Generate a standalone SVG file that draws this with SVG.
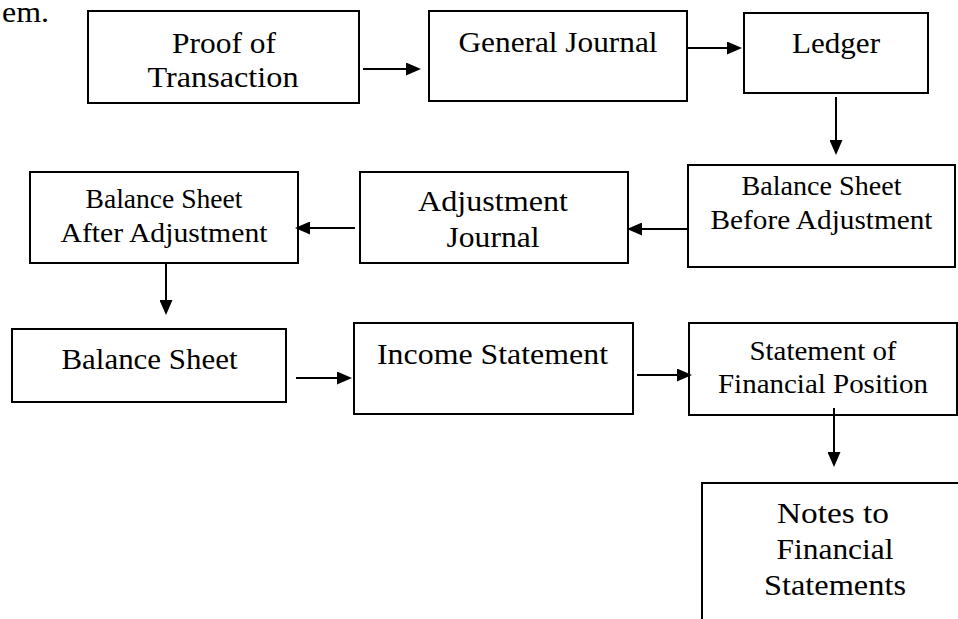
<svg xmlns="http://www.w3.org/2000/svg" width="958" height="619" viewBox="0 0 958 619">
<style>
.box{fill:#fff;stroke:#000;stroke-width:2}
.t{font-family:"Liberation Serif","Times New Roman",serif;font-size:29px;fill:#000;text-anchor:middle}
.s{font-size:26.5px}
.c{fill:none;stroke:#000;stroke-width:2}
</style>
<defs>
<marker id="ah" viewBox="0 0 15 13" refX="7" refY="6.5" markerWidth="15" markerHeight="13" markerUnits="userSpaceOnUse" orient="auto">
<path d="M0,0 L15,6.5 L0,13 z" fill="#000"/>
</marker>
</defs>
<rect width="958" height="619" fill="#fff"/>
<text class="t" x="2" y="22" style="text-anchor:start" textLength="47" lengthAdjust="spacingAndGlyphs">em.</text>
<g id="proof">
<rect class="box" x="88" y="11" width="271" height="92"/>
<text class="t" x="224" y="53" textLength="104" lengthAdjust="spacingAndGlyphs">Proof of</text>
<text class="t" x="223" y="87" textLength="151" lengthAdjust="spacingAndGlyphs">Transaction</text>
</g>
<g id="general-journal">
<rect class="box" x="429" y="11" width="258" height="90"/>
<text class="t" x="558" y="52" textLength="199" lengthAdjust="spacingAndGlyphs">General Journal</text>
</g>
<g id="ledger">
<rect class="box" x="744" y="13" width="184" height="80"/>
<text class="t" x="836" y="53" textLength="88" lengthAdjust="spacingAndGlyphs">Ledger</text>
</g>
<g id="bs-before">
<rect class="box" x="688" y="165" width="267" height="102"/>
<text class="t s" x="821.5" y="195" textLength="160" lengthAdjust="spacingAndGlyphs">Balance Sheet</text>
<text class="t s" x="821.5" y="229" textLength="222" lengthAdjust="spacingAndGlyphs">Before Adjustment</text>
</g>
<g id="adjustment-journal">
<rect class="box" x="360" y="172" width="268" height="91"/>
<text class="t" x="493" y="211" textLength="150" lengthAdjust="spacingAndGlyphs">Adjustment</text>
<text class="t" x="493" y="247" textLength="93" lengthAdjust="spacingAndGlyphs">Journal</text>
</g>
<g id="bs-after">
<rect class="box" x="30" y="172" width="268" height="91"/>
<text class="t s" x="164" y="208" textLength="157" lengthAdjust="spacingAndGlyphs">Balance Sheet</text>
<text class="t s" x="164" y="242" textLength="207" lengthAdjust="spacingAndGlyphs">After Adjustment</text>
</g>
<g id="balance-sheet">
<rect class="box" x="12" y="329" width="274" height="73"/>
<text class="t" x="149.5" y="369" textLength="176" lengthAdjust="spacingAndGlyphs">Balance Sheet</text>
</g>
<g id="income-statement">
<rect class="box" x="354" y="323" width="279" height="91"/>
<text class="t" x="492.5" y="364" textLength="231" lengthAdjust="spacingAndGlyphs">Income Statement</text>
</g>
<g id="sfp">
<rect class="box" x="689" y="323" width="268" height="92"/>
<text class="t s" x="823" y="360" textLength="147" lengthAdjust="spacingAndGlyphs">Statement of</text>
<text class="t s" x="823" y="393" textLength="210" lengthAdjust="spacingAndGlyphs">Financial Position</text>
</g>
<g id="notes">
<rect class="box" x="702" y="483" width="300" height="200"/>
<text class="t" x="833" y="523" textLength="112" lengthAdjust="spacingAndGlyphs">Notes to</text>
<text class="t" x="835" y="559" textLength="117" lengthAdjust="spacingAndGlyphs">Financial</text>
<text class="t" x="835" y="595" textLength="142" lengthAdjust="spacingAndGlyphs">Statements</text>
</g>
<g id="connectors">
<line class="c" x1="363" y1="69" x2="413" y2="69" marker-end="url(#ah)"/>
<line class="c" x1="688" y1="48" x2="734" y2="48" marker-end="url(#ah)"/>
<line class="c" x1="836" y1="97" x2="836" y2="147" marker-end="url(#ah)"/>
<line class="c" x1="687" y1="229" x2="635" y2="229" marker-end="url(#ah)"/>
<line class="c" x1="355" y1="228" x2="303" y2="228" marker-end="url(#ah)"/>
<line class="c" x1="166" y1="263" x2="166" y2="307" marker-end="url(#ah)"/>
<line class="c" x1="296" y1="378" x2="344" y2="378" marker-end="url(#ah)"/>
<line class="c" x1="637" y1="375" x2="684" y2="375" marker-end="url(#ah)"/>
<line class="c" x1="834" y1="408" x2="834" y2="459" marker-end="url(#ah)"/>
</g>
</svg>
